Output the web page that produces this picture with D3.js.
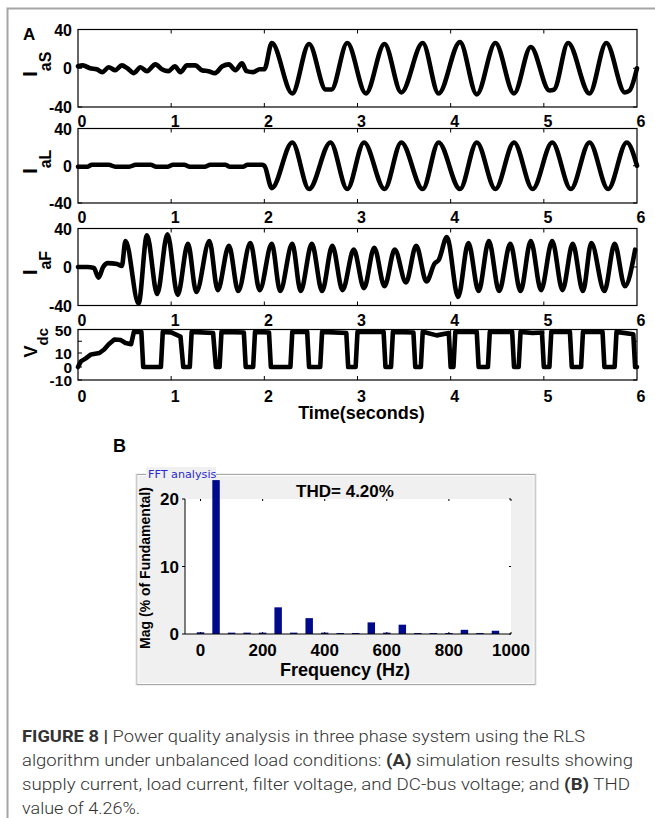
<!DOCTYPE html>
<html><head><meta charset="utf-8">
<script src="https://cdn.jsdelivr.net/npm/d3@7"></script>
<style>body{margin:0;background:#fff}svg{display:block}</style>
</head><body>
<svg id="c" width="655" height="818"></svg>
<script>
// ---------- DATA ----------
const timeTicks = [0, 1, 2, 3, 4, 5, 6];
const currentTicks = [-40, 0, 40];
const vdcTickLabels = [-10, 0, 10, 50];
const vdcTickMarks = [-10, 0, 10, 30, 50];

// supply current I_aS  [time s, value]
const iaS = [[0,2],[0.05,3],[0.13,0],[0.2,-1],[0.26,-4],[0.33,1],[0.4,-2],[0.47,3],[0.53,0],[0.6,-5],[0.67,1],[0.74,-3],[0.83,4],[0.9,-1],[0.97,-3],[1.04,2],[1.1,-4],[1.17,3],[1.26,3],[1.33,-2],[1.4,-3],[1.47,-5],[1.55,2],[1.62,4],[1.69,-2],[1.76,5],[1.81,-3],[1.88,-4],[1.95,-1],[2.0,-1],
  [2.08,26],[2.30,-26],[2.48,25],[2.66,-22],[2.72,-22],[2.89,26],[3.09,-26],[3.29,25],[3.47,-25],[3.70,26],[3.87,-26],[4.10,27],[4.28,-27],[4.48,26],[4.68,-26],[4.86,22],[5.06,-23],[5.11,-22],[5.26,26],[5.49,-26],[5.67,26],[5.87,-25],[5.92,-23],[6.0,0]];

// load current I_aL
const iaL = [[0,-1],[0.1,-1],[0.15,1],[0.33,1],[0.4,-1],[0.55,-1],[0.62,1],[0.78,1],[0.84,-1],[0.96,-1],[1.02,1],[1.14,1],[1.2,-1],[1.36,-1],[1.42,1],[1.58,1],[1.63,-1],[1.77,-1],[1.82,1],[1.97,1],[2.0,0],
  [2.08,-24],[2.30,25],[2.48,-25],[2.71,25],[2.89,-25],[3.07,25],[3.29,-25],[3.47,25],[3.70,-25],[3.87,25],[4.10,-25],[4.28,25],[4.48,-25],[4.68,25],[4.88,-25],[5.09,25],[5.29,-25],[5.49,25],[5.69,-25],[5.89,25],[6.0,0]];

// filter current I_aF
const iaF = [[0,0],[0.1,0],[0.17,-1],[0.22,-11],[0.27,0],[0.32,4],[0.42,3],[0.47,1],[0.51,27],[0.65,-38],[0.74,33],[0.85,-28],[0.96,34],[1.07,-29],[1.18,24],[1.27,-26],[1.41,27],[1.50,-24],[1.62,22],[1.72,-25],[1.85,25],[1.95,-24],[2.08,24],[2.17,-25],[2.30,24],[2.39,-25],[2.51,24],[2.62,-25],[2.73,22],[2.84,-24],[2.96,18],[3.07,-22],[3.18,20],[3.29,-20],[3.40,18],[3.52,-16],[3.63,22],[3.74,-15],[3.83,4],[3.87,7],[3.96,31],[4.08,-31],[4.19,25],[4.30,-25],[4.41,27],[4.52,-25],[4.64,24],[4.75,-25],[4.86,27],[4.97,-24],[5.09,27],[5.20,-24],[5.31,24],[5.42,-25],[5.51,25],[5.65,-25],[5.76,24],[5.87,-20],[5.98,18]];

// DC-bus voltage V_dc
const vdc = [[0,0],[0.03,4],[0.08,6],[0.14,9],[0.23,10],[0.28,16],[0.33,25],[0.39,33],[0.46,32],[0.51,27],[0.57,25],[0.6,46],[0.68,46],[0.7,0],
  [0.89,0],[0.91,46],[1.0,45],[1.1,38],[1.13,0],[1.2,0],[1.22,46],[1.45,44],[1.48,0],[1.52,0],[1.54,46],[1.78,45],[1.8,0],[1.88,0],[1.9,46],[2.05,45],[2.07,0],
  [2.28,0],[2.3,46],[2.46,46],[2.48,0],[2.6,0],[2.62,46],[2.88,44],[2.9,0],[2.98,0],[3.0,46],[3.28,46],[3.3,0],[3.36,0],[3.38,46],[3.6,45],[3.62,0],
  [3.68,0],[3.7,46],[3.85,40],[3.98,44],[4.0,0],[4.03,0],[4.05,46],[4.28,46],[4.3,0],[4.4,0],[4.42,46],[4.66,46],[4.68,0],[4.73,0],[4.75,46],[4.88,44],[4.98,45],[5.0,0],
  [5.06,0],[5.08,46],[5.28,46],[5.3,0],[5.4,0],[5.42,46],[5.63,46],[5.65,0],[5.76,0],[5.78,46],[5.96,42],[5.98,0],[6.0,0]];

// FFT spectrum (B)
const fftFreq = [0,50,100,150,200,250,300,350,400,450,500,550,600,650,700,750,800,850,900,950];
const fftMag  = [0.25,22.8,0.2,0.2,0.2,3.95,0.2,2.35,0.2,0.15,0.15,1.72,0.2,1.38,0.15,0.15,0.15,0.62,0.15,0.48];
const fftXTicks = [0,200,400,600,800,1000];
const fftYTicks = [0,10,20];

// ---------- DRAWING ----------
const svg = d3.select("#c");
const BOLD = "'Liberation Sans', Arial, sans-serif";

// outer frame
svg.append("path").attr("d","M7.5,818 V8.5 H655").attr("fill","none").attr("stroke","#a5a5a5").attr("stroke-width",2);

const x = d3.scaleLinear().domain([0,6]).range([78,637]);

const panels = [
  {data: iaS, top: 29.5, bottom: 107, yDom:[-40,40], ticks: currentTicks, marks: currentTicks, main:"I", sub:"aS", labY: -4, lblBase:20},
  {data: iaL, top: 128.5, bottom: 203, yDom:[-40,40], ticks: currentTicks, marks: currentTicks, main:"I", sub:"aL", labY: -4, lblBase:20},
  {data: iaF, top: 228.5, bottom: 305.5, yDom:[-40,40], ticks: currentTicks, marks: currentTicks, main:"I", sub:"aF", labY: -4, lblBase:20},
  {data: vdc, top: 329.5, bottom: 380, yDom:[-10,0,10,50], ticks: vdcTickLabels, marks: vdcTickMarks, main:"V", sub:"dc", labY: -12, lblBase:22, pw:[380,367,353,329.5]}
];

panels.forEach(p => {
  const y = d3.scaleLinear().domain(p.yDom).range(p.pw ? p.pw : [p.bottom, p.top]);
  const g = svg.append("g");
  const line = d3.line().x(d=>x(d[0])).y(d=>y(d[1]))
    .curve(p.sub==="dc" ? d3.curveLinear : d3.curveMonotoneX);
  g.append("path").datum(p.data).attr("d", line).attr("fill","none")
    .attr("stroke","#000").attr("stroke-width",4.6).attr("stroke-linejoin","round").attr("stroke-linecap","round");
  g.append("rect").attr("x",x(0)).attr("y",p.top).attr("width",x(6)-x(0)).attr("height",p.bottom-p.top)
    .attr("fill","none").attr("stroke","#000").attr("stroke-width",1.2);
  timeTicks.slice(1,-1).forEach(t => {
    g.append("line").attr("x1",x(t)).attr("x2",x(t)).attr("y1",p.bottom).attr("y2",p.bottom-4).attr("stroke","#000");
    g.append("line").attr("x1",x(t)).attr("x2",x(t)).attr("y1",p.top).attr("y2",p.top+4).attr("stroke","#000");
  });
  p.marks.forEach(v => {
    g.append("line").attr("x1",x(0)).attr("x2",x(0)+4).attr("y1",y(v)).attr("y2",y(v)).attr("stroke","#000");
    g.append("line").attr("x1",x(6)).attr("x2",x(6)-4).attr("y1",y(v)).attr("y2",y(v)).attr("stroke","#000");
  });
  g.selectAll(".xl").data(timeTicks).enter().append("text")
    .attr("x", d=>x(d)+4).attr("y", p.bottom + p.lblBase)
    .attr("text-anchor","middle").attr("font-family",BOLD).attr("font-weight","bold").attr("font-size",16)
    .text(d=>d);
  g.selectAll(".yl").data(p.ticks).enter().append("text")
    .attr("x", 72).attr("y", d=>y(d)+6)
    .attr("text-anchor","end").attr("font-family",BOLD).attr("font-weight","bold").attr("font-size",p.pw?15.5:16)
    .text(d=>d);
  const cy = (p.top + p.bottom)/2 + p.labY;
  const t = g.append("text").attr("transform",`translate(37,${cy}) rotate(-90)`)
    .attr("text-anchor","middle").attr("font-family",BOLD).attr("font-weight","bold");
  t.append("tspan").attr("font-size",p.main==="V"?18:20).text(p.main);
  t.append("tspan").attr("font-size",p.main==="V"?15:16).attr("dy",p.main==="V"?11:14).text(p.sub);
});

svg.append("text").attr("x",23).attr("y",40).attr("font-family",BOLD).attr("font-weight","bold").attr("font-size",17).text("A");
svg.append("text").attr("x",x(3)+4).attr("y",419).attr("text-anchor","middle").attr("font-family",BOLD).attr("font-weight","bold").attr("font-size",18).text("Time(seconds)");

// ---------- PANEL B ----------
svg.append("text").attr("x",113).attr("y",452).attr("font-family",BOLD).attr("font-weight","bold").attr("font-size",18).text("B");
const pb = svg.append("g");
pb.append("rect").attr("x",135).attr("y",473).attr("width",402).attr("height",213).attr("fill","#f0f0f0");
pb.append("rect").attr("x",137).attr("y",474.5).attr("width",398).attr("height",210).attr("fill","none").attr("stroke","#a8a8a8").attr("stroke-width",1);
pb.append("rect").attr("x",138).attr("y",475.5).attr("width",396).attr("height",208).attr("fill","none").attr("stroke","#ffffff").attr("stroke-width",1);
pb.append("rect").attr("x",146).attr("y",467).attr("width",70).attr("height",14).attr("fill","#f0f0f0");
pb.append("text").attr("x",148).attr("y",478).attr("font-family","'DejaVu Sans', sans-serif").attr("font-size",11.2).attr("fill","#2a2ad0").text("FFT analysis");

const fx = d3.scaleLinear().domain([-50,1000]).range([185,511]);
const fy = d3.scaleLinear().domain([0,20]).range([634,499]);
pb.append("rect").attr("x",fx(-50)).attr("y",fy(20)).attr("width",fx(1000)-fx(-50)).attr("height",fy(0)-fy(20)).attr("fill","#fff");
pb.selectAll(".bar").data(fftFreq).enter().append("rect")
  .attr("x", (d)=>fx(d-12)).attr("width", fx(12)-fx(-12))
  .attr("y", (d,i)=>fy(fftMag[i])).attr("height",(d,i)=>fy(0)-fy(fftMag[i]))
  .attr("fill","#000a8a");
pb.append("line").attr("x1",fx(-50)).attr("x2",fx(-50)).attr("y1",fy(20)).attr("y2",fy(0)).attr("stroke","#000");
pb.append("line").attr("x1",fx(-50)).attr("x2",fx(1000)).attr("y1",fy(0)).attr("y2",fy(0)).attr("stroke","#000");
fftYTicks.forEach(v=>{
  pb.append("line").attr("x1",fx(-50)-3).attr("x2",fx(-50)).attr("y1",fy(v)).attr("y2",fy(v)).attr("stroke","#000");
  pb.append("line").attr("x1",fx(1000)).attr("x2",fx(1000)-2).attr("y1",fy(v)).attr("y2",fy(v)).attr("stroke","#000");
  pb.append("text").attr("x",179).attr("y",fy(v)+6).attr("text-anchor","end").attr("font-family",BOLD).attr("font-weight","bold").attr("font-size",17).text(v);
});
fftXTicks.forEach(v=>{
  pb.append("line").attr("x1",fx(v)).attr("x2",fx(v)).attr("y1",fy(20)).attr("y2",fy(20)+2).attr("stroke","#000");
  pb.append("line").attr("x1",fx(v)).attr("x2",fx(v)).attr("y1",fy(0)).attr("y2",fy(0)-2).attr("stroke","#000");
  pb.append("text").attr("x",fx(v)).attr("y",656).attr("text-anchor","middle").attr("font-family",BOLD).attr("font-weight","bold").attr("font-size",17).text(v);
});
pb.append("text").attr("x",345).attr("y",497).attr("text-anchor","middle").attr("font-family",BOLD).attr("font-weight","bold").attr("font-size",17).text("THD= 4.20%");
pb.append("text").attr("x",345).attr("y",676).attr("text-anchor","middle").attr("font-family",BOLD).attr("font-weight","bold").attr("font-size",18).text("Frequency (Hz)");
pb.append("text").attr("transform","translate(150,568) rotate(-90)").attr("text-anchor","middle").attr("font-family",BOLD).attr("font-weight","bold").attr("font-size",14).text("Mag (% of Fundamental)");

// ---------- CAPTION ----------
const capLines = [
  [["FIGURE 8 |",true],[" Power quality analysis in three phase system using the RLS",false]],
  [["algorithm under unbalanced load conditions: ",false],["(A)",true],[" simulation results showing",false]],
  [["supply current, load current, filter voltage, and DC-bus voltage; and ",false],["(B)",true],[" THD",false]],
  [["value of 4.26%.",false]]
];
const capWidths = [563, 611, 608, 118];
capLines.forEach((ln,i)=>{
  const t = svg.append("text").attr("x",22).attr("y",742+i*24).attr("font-family","Roboto, 'Liberation Sans', sans-serif")
    .attr("font-size",16.5).attr("fill","#333").attr("textLength",capWidths[i]).attr("lengthAdjust","spacingAndGlyphs");
  ln.forEach(s=>t.append("tspan").attr("font-weight",s[1]?"bold":"300").text(s[0]));
});
</script>
</body></html>
